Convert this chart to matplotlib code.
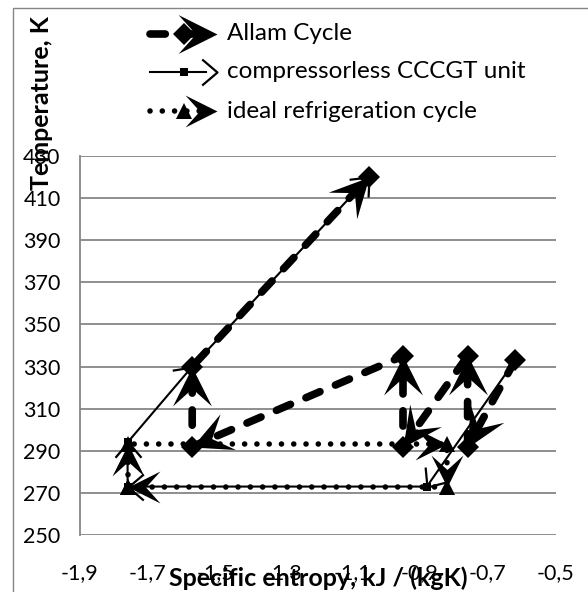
import numpy as np
import matplotlib
matplotlib.use("Agg")
import matplotlib.pyplot as plt
from matplotlib.markers import MarkerStyle
from matplotlib.path import Path
from matplotlib.patches import Rectangle
from matplotlib.transforms import Affine2D

# T-s diagram points (entropy kJ/(kgK), temperature K)
allam_s = [-0.62, -0.76, -0.76, -0.95, -0.95, -1.57, -1.57, -1.05]
allam_T = [333, 292, 335, 292, 335, 292, 330, 420]

cccgt_s = [-0.62, -0.88, -1.76, -1.76, -1.57, -1.05]
cccgt_T = [333, 273, 273, 294, 330, 420]

refr_s = [-1.76, -1.76, -0.82, -0.82, -1.76]
refr_T = [273, 293, 293, 273, 273]

x_ticks = [-1.9, -1.7, -1.5, -1.3, -1.1, -0.9, -0.7, -0.5]
y_ticks = [250, 270, 290, 310, 330, 350, 370, 390, 410, 430]
series_names = ["Allam Cycle", "compressorless CCCGT unit", "ideal refrigeration cycle"]

W, H, DPI = 588, 592, 100
GRID = "#868686"

plt.rcParams["font.family"] = ["Lato", "DejaVu Sans"]

STEALTH = Path([(0, 0), (-1, 0.5), (-0.55, 0), (-1, -0.5), (0, 0)],
               [Path.MOVETO, Path.LINETO, Path.LINETO, Path.LINETO, Path.CLOSEPOLY])
OPEN = Path([(-1, 0.85), (0, 0), (-1, -0.85)], [Path.MOVETO, Path.LINETO, Path.LINETO])


def head(path, angle):
    return MarkerStyle(path, transform=Affine2D().rotate_deg(angle))


def seg_angle(ax, p0, p1):
    a, b = ax.transData.transform([p0, p1])
    return np.degrees(np.arctan2(b[1] - a[1], b[0] - a[0]))


STYLES = {
    "allam": dict(line=dict(lw=5.5, dashes=(2.0, 2.2), dash_capstyle="round"),
                  marker="D", ms=11, head=STEALTH, head_ms=56, open=False),
    "cccgt": dict(line=dict(lw=1.5, ls="-"),
                  marker="s", ms=6, head=OPEN, head_ms=22, open=True),
    "refr": dict(line=dict(lw=4.0, dashes=(0.01, 2.2), dash_capstyle="round"),
                 marker="^", ms=11, head=STEALTH, head_ms=46, open=False),
}


def draw_series(ax, s, T, st, z):
    ax.plot(s, T, color="black", zorder=z, **st["line"])
    for i in range(1, len(s)):
        ang = seg_angle(ax, (s[i - 1], T[i - 1]), (s[i], T[i]))
        if st["open"]:
            ax.plot(s[i], T[i], marker=head(st["head"], ang), ms=st["head_ms"],
                    mfc="none", mec="black", mew=1.6, ls="none", zorder=z + 0.1)
        else:
            ax.plot(s[i], T[i], marker=head(st["head"], ang), ms=st["head_ms"],
                    mfc="black", mec="black", mew=0, ls="none", zorder=z + 0.1)
    ax.plot(s, T, ls="none", marker=st["marker"], ms=st["ms"], color="black",
            mew=0, zorder=z + 0.2)


fig = plt.figure(figsize=(W / DPI, H / DPI), dpi=DPI)
# plot area in pixels: x 80..556, y 156..535
ax = fig.add_axes([80 / W, 1 - 535 / H, 476 / W, 379 / H])
ax.set_xlim(-1.9, -0.5)
ax.set_ylim(250, 430)
ax.set_xticks(x_ticks)
ax.set_yticks(y_ticks)
ax.set_xticklabels([f"{t:.1f}".replace(".", ",") for t in x_ticks])
ax.set_yticklabels([str(t) for t in y_ticks])
ax.tick_params(length=0, labelsize=15.5, colors="black")
ax.tick_params(axis="x", pad=20)
ax.tick_params(axis="y", pad=14)
ax.grid(axis="y", color=GRID, lw=1.3)
ax.set_axisbelow(True)
for side in ("top", "right", "bottom"):
    ax.spines[side].set_visible(False)
ax.spines["left"].set_color(GRID)
ax.spines["left"].set_linewidth(1.3)
ax.patch.set_alpha(0)

draw_series(ax, allam_s, allam_T, STYLES["allam"], 3)
draw_series(ax, cccgt_s, cccgt_T, STYLES["cccgt"], 4)
draw_series(ax, refr_s, refr_T, STYLES["refr"], 5)

# outer chart border
fig.add_artist(Rectangle((13 / W, -0.1), 2, 1.1 - 8 / H, transform=fig.transFigure,
                         fill=False, ec=GRID, lw=1.0))

fig.text(318 / W, 1 - 578 / H, "Specific entropy, kJ / (kgK)", ha="center", va="center",
         fontsize=18, fontweight="bold")
fig.text(42 / W, 1 - 103 / H, "Temperature, K", ha="center", va="center",
         rotation=90, fontsize=18, fontweight="bold")

# legend drawn in pixel space
lg = fig.add_axes([0, 0, 1, 1], zorder=10)
lg.set_xlim(0, W)
lg.set_ylim(H, 0)
lg.axis("off")
rows = [34, 72, 111]
keys = ["allam", "cccgt", "refr"]
for y, key, name in zip(rows, keys, series_names):
    st = STYLES[key]
    lg.plot([150, 206], [y, y], color="black", **st["line"])
    lg.plot(184, y, marker=st["marker"], ms=st["ms"], color="black", mew=0)
    if st["open"]:
        lg.plot(217, y, marker=head(st["head"], 0), ms=st["head_ms"], mfc="none",
                mec="black", mew=1.6)
    else:
        lg.plot(217, y, marker=head(st["head"], 0), ms=st["head_ms"], color="black", mew=0)
    lg.text(227, y, name, ha="left", va="center", fontsize=17.5)

fig.savefig("out.png", dpi=DPI)
